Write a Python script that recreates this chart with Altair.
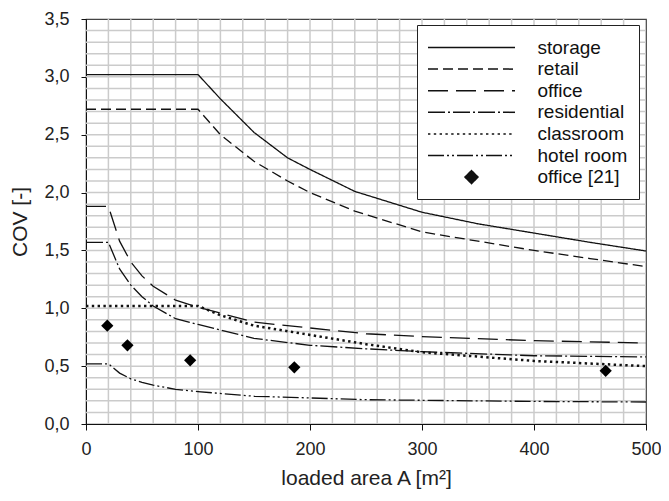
import altair as alt
import pandas as pd

FONT = "Liberation Sans"

series_names = ["storage", "retail", "office", "residential", "classroom", "hotel room", "office [21]"]

storage_A = [0, 100, 120, 150, 180, 200, 240, 300, 350, 400, 450, 500]
storage_cov = [3.02, 3.02, 2.81, 2.52, 2.30, 2.20, 2.01, 1.83, 1.73, 1.65, 1.57, 1.495]

retail_A = [0, 100, 120, 150, 180, 200, 240, 300, 350, 400, 450, 500]
retail_cov = [2.72, 2.72, 2.50, 2.27, 2.10, 2.00, 1.84, 1.66, 1.58, 1.50, 1.43, 1.36]

office_A = [0, 20, 30, 40, 50, 60, 80, 100, 150, 200, 250, 300, 400, 500]
office_cov = [1.88, 1.88, 1.58, 1.40, 1.28, 1.19, 1.07, 1.01, 0.88, 0.83, 0.78, 0.755, 0.72, 0.70]

residential_A = [0, 20, 30, 40, 50, 60, 80, 100, 150, 200, 250, 300, 400, 500]
residential_cov = [1.57, 1.57, 1.34, 1.20, 1.10, 1.02, 0.91, 0.86, 0.74, 0.68, 0.65, 0.625, 0.59, 0.58]

classroom_A = [0, 100, 120, 150, 200, 250, 300, 400, 500]
classroom_cov = [1.02, 1.02, 0.94, 0.85, 0.77, 0.69, 0.62, 0.545, 0.50]

hotel_A = [0, 20, 30, 40, 50, 60, 80, 100, 150, 200, 250, 300, 400, 500]
hotel_cov = [0.52, 0.52, 0.44, 0.39, 0.36, 0.335, 0.30, 0.28, 0.24, 0.225, 0.21, 0.205, 0.195, 0.19]

obs_A = [19, 37, 93, 186, 464]
obs_cov = [0.85, 0.68, 0.55, 0.49, 0.46]

x_ticks = [0, 100, 200, 300, 400, 500]
y_ticks = [0.0, 0.5, 1.0, 1.5, 2.0, 2.5, 3.0, 3.5]
x_grid = list(range(20, 500, 20))
y_grid = [round(0.1 * i, 1) for i in range(1, 35)]

dash_range = [[1, 0], [10, 5], [20, 8], [17, 3, 2, 3], [2.4, 3.4], [16, 3, 2, 3, 2, 3], [1, 0]]

rows = []
for name, A, cov in [
    ("storage", storage_A, storage_cov),
    ("retail", retail_A, retail_cov),
    ("office", office_A, office_cov),
    ("residential", residential_A, residential_cov),
    ("classroom", classroom_A, classroom_cov),
    ("hotel room", hotel_A, hotel_cov),
]:
    for a, c in zip(A, cov):
        rows.append({"series": name, "A": a, "COV": c})
lines_df = pd.DataFrame(rows)
obs_df = pd.DataFrame({"A": obs_A, "COV": obs_cov, "series": "office [21]"})
xg_df = pd.DataFrame({"g": x_grid})
yg_df = pd.DataFrame({"g": y_grid})

xscale = alt.Scale(domain=[0, 500], nice=False, zero=False)
yscale = alt.Scale(domain=[0, 3.5], nice=False, zero=False)

x_axis = alt.Axis(
    values=x_ticks, format="d", grid=False, title="loaded area A [m²]",
    labelFontSize=18, titleFontSize=21, titleFontWeight="normal",
    labelColor="#222", titleColor="#222", tickColor="#111", domainColor="#111",
    tickSize=6, labelPadding=10, titlePadding=9, labelFlush=False, labelOverlap=False,
)
y_axis = alt.Axis(
    values=y_ticks, grid=False, title="COV [-]",
    labelExpr="replace(format(datum.value, '.1f'), '.', ',')",
    labelFontSize=18, titleFontSize=21, titleFontWeight="normal",
    labelColor="#222", titleColor="#222", tickColor="#111", domainColor="#111",
    tickSize=5, labelPadding=12, titlePadding=13, labelFlush=False, labelOverlap=False,
)

grid_color = "#cbcbcb"
vgrid = alt.Chart(xg_df).mark_rule(color=grid_color, strokeWidth=1.5).encode(
    x=alt.X("g:Q", scale=xscale, axis=x_axis)
)
hgrid = alt.Chart(yg_df).mark_rule(color=grid_color, strokeWidth=1.5).encode(
    y=alt.Y("g:Q", scale=yscale, axis=y_axis)
)

# legend symbol shapes (unit box scaled by sqrt(symbolSize)/2)
line_path = "M-4.35,0H4.35"
diamond_parts = ["M-0.65,0L0,-0.65L0.65,0L0,0.65Z"]
for i in range(-6, 7):
    yy = i * 0.1
    half = round(0.62 - abs(yy), 2)
    if half > 0:
        diamond_parts.append(f"M{-half},{round(yy, 2)}H{half}")
diamond_path = "".join(diamond_parts)

legend = alt.Legend(
    title=None, orient="none", legendX=331, legendY=6,
    symbolType={"expr": f"datum.value === 'office [21]' ? '{diamond_path}' : '{line_path}'"},
    symbolSize=400, symbolStrokeColor="#111",
    symbolOffset=32, labelOffset=55,
    labelFontSize=19, labelFont=FONT, labelColor="#111",
    labelExpr="datum.label + '\u00a0'",
    padding=11.5, rowPadding=0.6,
    fillColor="white", strokeColor="#222",
)

lines = alt.Chart(lines_df).mark_line(color="#111").encode(
    x=alt.X("A:Q", scale=xscale, axis=x_axis),
    y=alt.Y("COV:Q", scale=yscale, axis=y_axis),
    strokeDash=alt.StrokeDash(
        "series:N", scale=alt.Scale(domain=series_names, range=dash_range), legend=legend
    ),
    strokeWidth=alt.condition("datum.series === 'classroom'", alt.value(2.5), alt.value(1.3)),
    detail="series:N",
)

points = alt.Chart(obs_df).mark_point(
    shape="diamond", filled=True, size=150, color="#000", opacity=1
).encode(
    x=alt.X("A:Q", scale=xscale, axis=x_axis),
    y=alt.Y("COV:Q", scale=yscale, axis=y_axis),
)

chart = alt.layer(vgrid, hgrid, lines, points).properties(
    width=560, height=405,
    autosize=alt.AutoSizeParams(type="none"),
    padding={"left": 78, "top": 11, "right": 15, "bottom": 69},
).configure(font=FONT).configure_view(stroke="#444", strokeWidth=1.2)

chart.save("out.html", embed_options={"renderer": "svg", "actions": False})
